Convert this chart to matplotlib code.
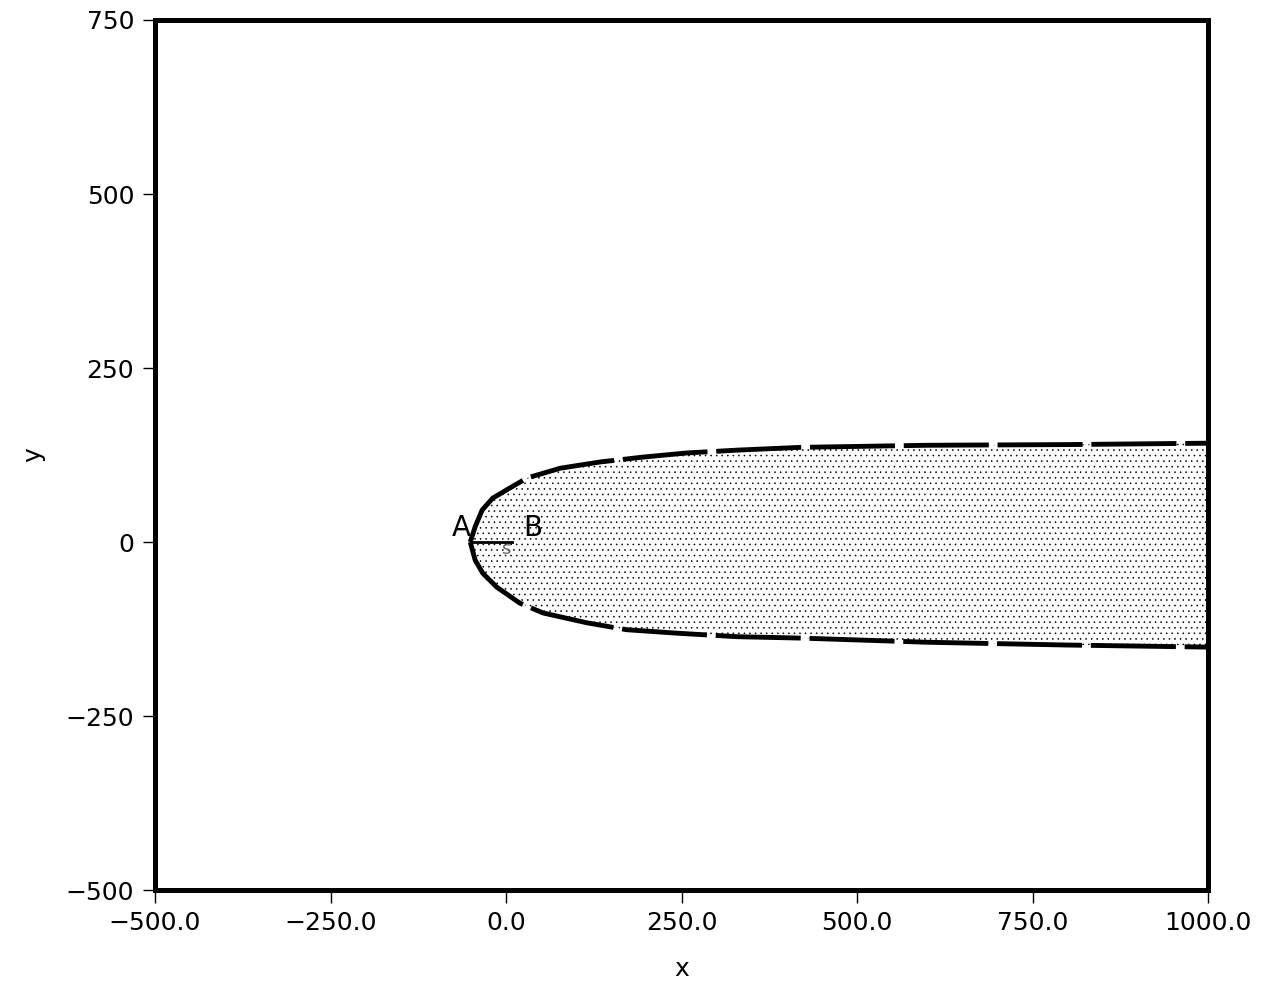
import matplotlib
matplotlib.use("Agg")
import matplotlib.pyplot as plt

# boundary of the shaded region
upper_x = [-51, -44, -34, -19, 6, 30, 77, 134, 195, 258, 329, 419, 600, 800, 1000]
upper_y = [0, 22, 46, 63, 78, 92, 106, 115, 122, 128, 132, 136, 139, 140, 142]
lower_x = [-51, -44, -33, -13, 20, 53, 115, 172, 244, 329, 419, 600, 800, 1000]
lower_y = [0, -26, -45, -65, -88, -102, -116, -126, -131, -136, -138, -144, -148, -151]

xticks = [-500, -250, 0, 250, 500, 750, 1000]
yticks = [-500, -250, 0, 250, 500, 750]

# segment A-B
ab_x = [-48, 8]
ab_y = [0, 0]

plt.rcParams["font.family"] = "DejaVu Sans"
plt.rcParams["hatch.linewidth"] = 0.4

fig = plt.figure(figsize=(12.72, 9.85), dpi=100)
ax = fig.add_axes([0.1219, 0.0964, 0.8278, 0.8833])

poly_x = upper_x[::-1] + lower_x[1:]
poly_y = upper_y[::-1] + lower_y[1:]
ax.fill(poly_x, poly_y, facecolor="white", edgecolor="black", hatch="...",
        linewidth=0)

ax.plot(upper_x, upper_y, color="black", lw=3.5, dashes=(17.5, 1.8),
        solid_capstyle="butt")
ax.plot(lower_x, lower_y, color="black", lw=3.5, dashes=(17.5, 1.8),
        solid_capstyle="butt")

ax.plot(ab_x, ab_y, color="black", lw=2)
ax.text(-50, 0, "A", fontsize=20, ha="right", va="bottom")
ax.text(25, 0, "B", fontsize=20, ha="left", va="bottom")
ax.text(0, 3, "s", fontsize=13, ha="center", va="top", color="#666666")

ax.set_xlim(-500, 1000)
ax.set_ylim(-500, 750)
ax.set_xticks(xticks)
ax.set_xticklabels([f"{v:.1f}".replace("-", "\u2212") for v in xticks])
ax.set_yticks(yticks)
ax.set_yticklabels([f"{v}".replace("-", "\u2212") for v in yticks])
ax.tick_params(direction="out", length=9, width=1, labelsize=18, pad=6)
for s in ax.spines.values():
    s.set_linewidth(3.6)

ax.set_xlabel("x", fontsize=18, labelpad=16)
ax.set_ylabel("y", fontsize=18, labelpad=15)

fig.savefig("out.png", dpi=100)
